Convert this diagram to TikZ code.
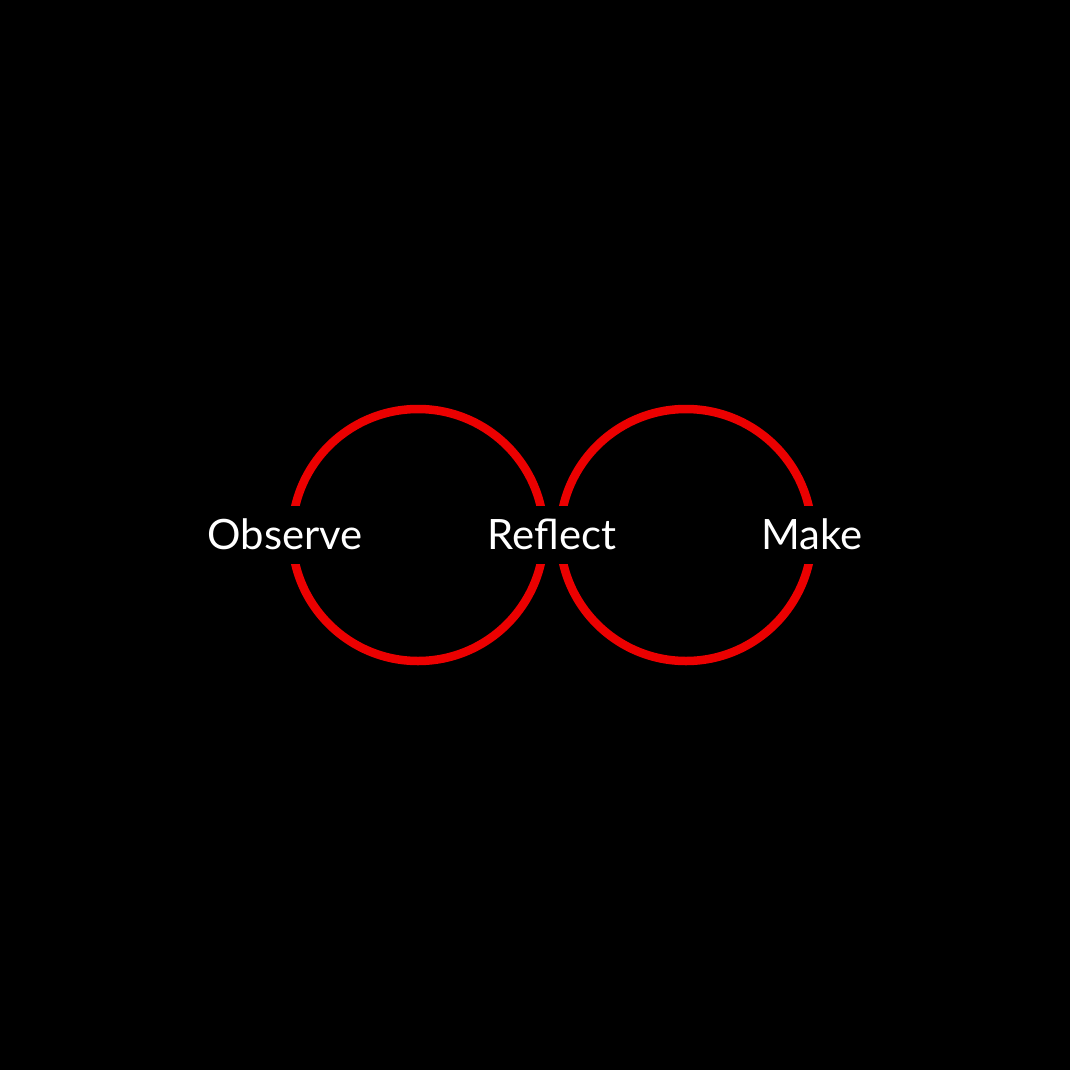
\documentclass[tikz,border=0pt]{standalone}
\usepackage{fontspec}
\setmainfont{Lato}
\usetikzlibrary{calc}
\definecolor{ringred}{RGB}{235,0,0}
\begin{document}
\begin{tikzpicture}[ring/.style={circle, draw=ringred, line width=0.085cm, minimum size=2.52cm, inner sep=0pt, outer sep=0pt}, word/.style={fill=black, text=white, font=\fontsize{11.9}{14}\selectfont, inner xsep=0.08cm, inner ysep=0pt, text height=0.43cm, text depth=0.15cm}]
    \fill[black] (-5.35,-5.35) rectangle (5.35,5.35);
    \useasboundingbox (-5.35,-5.35) rectangle (5.35,5.35);
    \node[ring] (lring) at (-1.17,0) {};
    \node[ring] (rring) at (1.51,0) {};
    \node[word] (observe) at ([xshift=-0.07cm]lring.west) {Observe};
    \node[word] (reflect) at ($(lring.east)!0.5!(rring.west)$) {Reflect};
    \node[word] (make) at (rring.east) {Make};
  \end{tikzpicture}
\end{document}
